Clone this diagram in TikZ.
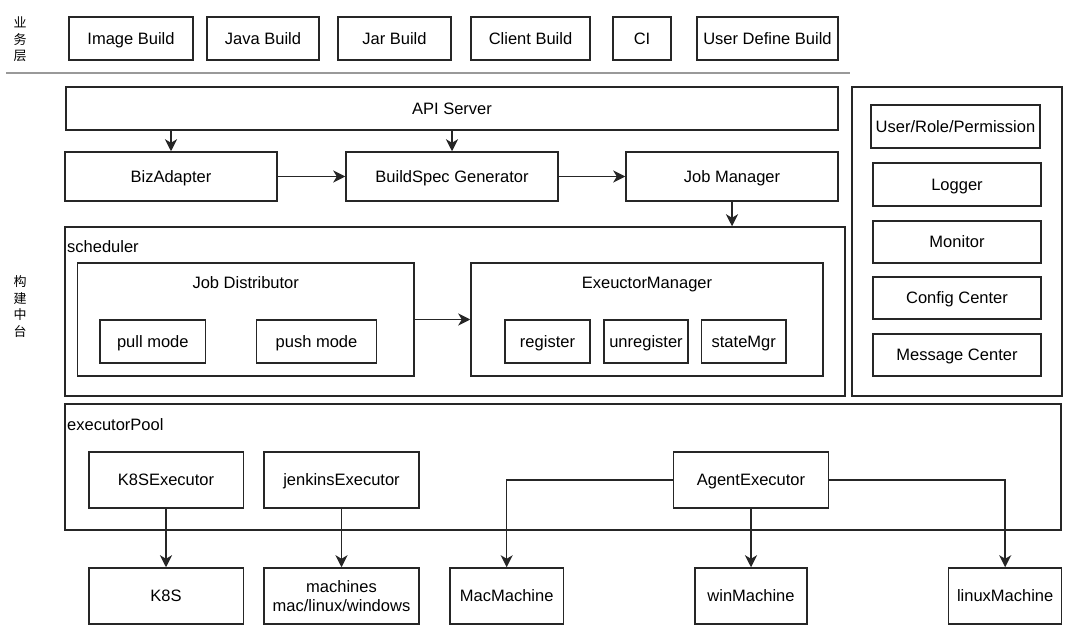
\documentclass[tikz,border=0pt]{standalone}
\usepackage{fontspec}
\setmainfont{Liberation Sans}
\newfontfamily\cjk{Noto Sans CJK SC}
\usetikzlibrary{arrows.meta}
\begin{document}
\begin{tikzpicture}[x=1pt,y=-1pt,
  box/.style={draw=black!85, line width=1.5pt, inner sep=0pt, align=center,
    text height=11.8pt, text depth=0pt,
    font=\fontsize{16.5}{19.5}\selectfont},
  txt/.style={inner sep=0pt, text height=11.8pt, text depth=0pt, font=\fontsize{16.5}{19}\selectfont},
  cjklabel/.style={inner sep=0pt, align=center, font=\cjk\fontsize{13}{16.5}\selectfont},
  conn/.style={draw=black!85, line width=1.5pt, -{Stealth[length=12pt,width=12pt,inset=3.5pt]}}]
\useasboundingbox (0,0) rectangle (1080,636);
\fill[white] (0,0) rectangle (1080,636);

% layer labels
\node[cjklabel] (lbiz) at (20,39.5) {业\\务\\层};
\node[cjklabel] (lmid) at (20,306.5) {构\\建\\中\\台};

% business layer
\node[box, minimum width=124, minimum height=43] (img) at (131,38.5) {Image Build};
\node[box, minimum width=112, minimum height=43] (java) at (263,38.5) {Java Build};
\node[box, minimum width=113, minimum height=43] (jar) at (394.5,38.5) {Jar Build};
\node[box, minimum width=119, minimum height=43] (client) at (530.5,38.5) {Client Build};
\node[box, minimum width=58, minimum height=43] (ci) at (642,38.5) {CI};
\node[box, minimum width=141, minimum height=43] (udb) at (767.5,38.5) {User Define Build};

\coordinate (sepL) at (6,73);
\coordinate (sepR) at (850,73);
\draw[black!40, line width=1.2pt] (sepL) -- (sepR);

% API layer
\node[box, minimum width=772, minimum height=43] (api) at (452,108.5) {API Server};
\node[box, minimum width=212, minimum height=49] (biz) at (171,176.5) {BizAdapter};
\node[box, minimum width=212, minimum height=49] (bsg) at (452,176.5) {BuildSpec Generator};
\node[box, minimum width=212, minimum height=49] (jm) at (732,176.5) {Job Manager};

% scheduler
\node[box, minimum width=780, minimum height=169] (sched) at (455,311.5) {};
\node[txt, anchor=west] (schedt) at (67,247) {scheduler};
\node[box, minimum width=336.5, minimum height=113] (jd) at (245.75,319.5) {};
\node[txt] (jdt) at (245.75,283) {Job Distributor};
\node[box, minimum width=105.6, minimum height=43] (pull) at (152.8,341.5) {pull mode};
\node[box, minimum width=120, minimum height=43] (push) at (316.5,341.5) {push mode};
\node[box, minimum width=352, minimum height=113] (em) at (647,319.5) {};
\node[txt] (emt) at (647,283) {ExeuctorManager};
\node[box, minimum width=85, minimum height=43] (reg) at (547.5,341.5) {register};
\node[box, minimum width=84, minimum height=43] (unreg) at (646,341.5) {unregister};
\node[box, minimum width=84.5, minimum height=43] (state) at (743.75,341.5) {stateMgr};

% right panel
\node[box, minimum width=210, minimum height=309] (panel) at (957,241.5) {};
\node[box, minimum width=169, minimum height=43] (urp) at (955.5,126.5) {User/Role/Permission};
\node[box, minimum width=168, minimum height=43] (logger) at (957,184.5) {Logger};
\node[box, minimum width=168, minimum height=42] (monitor) at (957,242) {Monitor};
\node[box, minimum width=168, minimum height=42] (config) at (957,298) {Config Center};
\node[box, minimum width=168, minimum height=42] (msg) at (957,355) {Message Center};

% executor pool
\node[box, minimum width=996, minimum height=126] (pool) at (563,467) {};
\node[txt, anchor=west] (poolt) at (67,425) {executorPool};
\node[box, minimum width=154.5, minimum height=56] (k8se) at (166,480) {K8SExecutor};
\node[box, minimum width=155, minimum height=56] (jenk) at (341.5,480) {jenkinsExecutor};
\node[box, minimum width=155, minimum height=56] (agent) at (751,480) {AgentExecutor};

% machines
\node[box, minimum width=154.5, minimum height=56] (k8s) at (166,596) {K8S};
\node[box, minimum width=155, minimum height=56, text height=31.3pt] (mach) at (341.5,596) {machines\\mac/linux/windows};
\node[box, minimum width=113.4, minimum height=56] (mac) at (506.7,596) {MacMachine};
\node[box, minimum width=112.4, minimum height=56] (win) at (751,596) {winMachine};
\node[box, minimum width=113, minimum height=56] (linux) at (1005.2,596) {linuxMachine};

% connectors
\draw[conn] (api.south -| biz.north) -- (biz.north);
\draw[conn] (api.south -| bsg.north) -- (bsg.north);
\draw[conn] (biz.east) -- (bsg.west);
\draw[conn] (bsg.east) -- (jm.west);
\draw[conn] (jm.south) -- (jm.south |- sched.north);
\draw[conn] (jd.east) -- (em.west);
\draw[conn] (k8se.south) -- (k8s.north);
\draw[conn] (jenk.south) -- (mach.north);
\draw[conn] (agent.west) -| (mac.north);
\draw[conn] (agent.south) -- (win.north);
\draw[conn] (agent.east) -| (linux.north);
\end{tikzpicture}
\end{document}
